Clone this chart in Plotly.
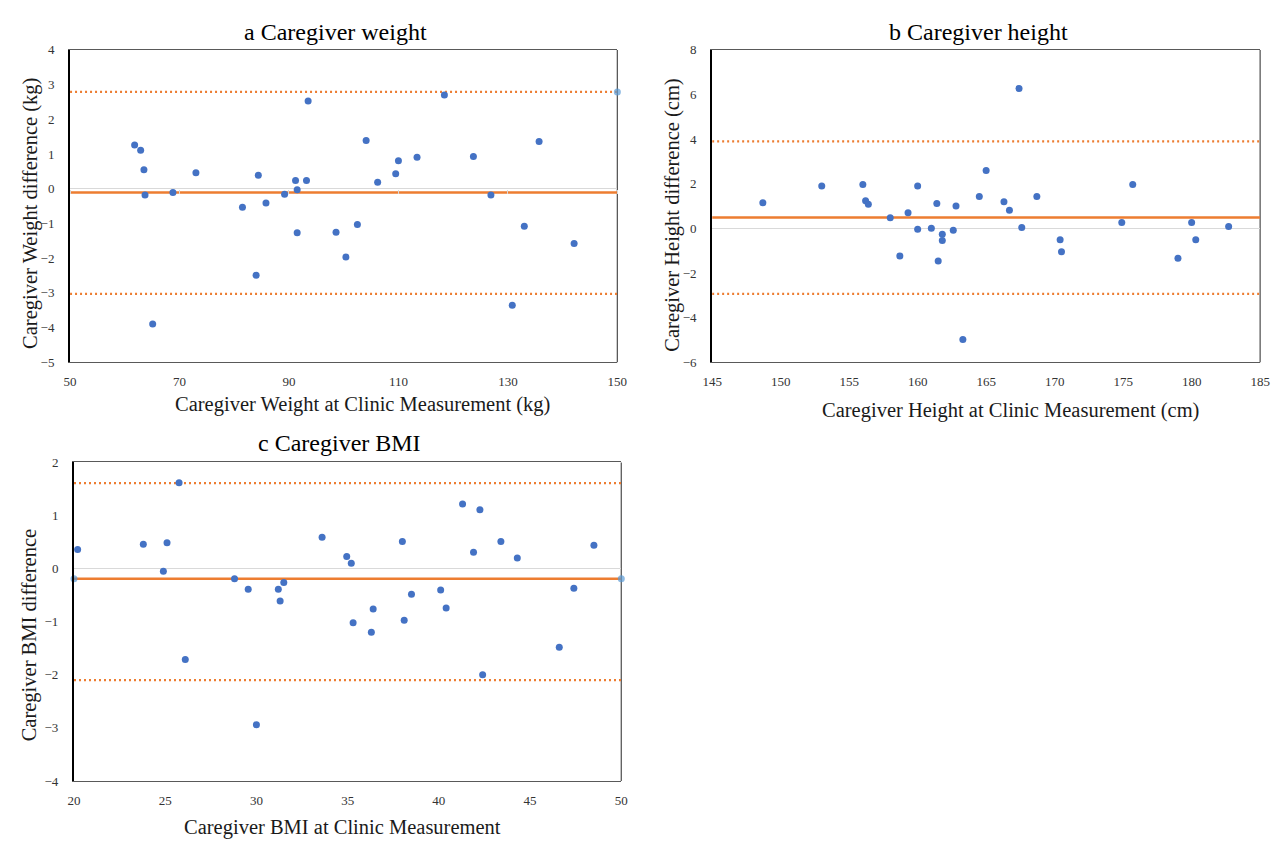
import plotly.graph_objects as go

W, H = 1279, 845

# ---------------- data ----------------
weight_x = [61.8, 62.9, 63.5, 63.7, 65.1, 68.8, 73.0, 81.5, 84.0, 84.4, 85.8, 89.2, 91.2, 91.5, 91.5, 93.2,
            93.5, 98.6, 100.4, 102.5, 104.1, 106.2, 109.5, 110.0, 113.4, 118.4, 123.7, 126.9, 130.8, 133.0,
            135.7, 142.1]
weight_diff = [1.26, 1.11, 0.55, -0.18, -3.90, -0.11, 0.46, -0.53, -2.49, 0.39, -0.41, -0.16, 0.24, -0.03,
               -1.27, 0.24, 2.53, -1.25, -1.97, -1.03, 1.39, 0.19, 0.43, 0.81, 0.91, 2.70, 0.93, -0.18,
               -3.36, -1.08, 1.36, -1.58]
weight_limits = [-0.11, 2.79, -3.03]  # mean, upper, lower

height_x = [148.7, 153.0, 156.0, 156.2, 156.4, 158.0, 158.7, 159.3, 160.0, 160.0, 161.0, 161.4, 161.5,
            161.8, 161.8, 162.6, 162.8, 163.3, 164.5, 165.0, 166.3, 166.7, 167.4, 167.6, 168.7, 170.4,
            170.5, 174.9, 175.7, 179.0, 180.0, 180.3, 182.7]
height_diff = [1.15, 1.90, 1.97, 1.24, 1.08, 0.48, -1.24, 0.70, 1.90, -0.04, 0.01, 1.12, -1.46, -0.26,
               -0.54, -0.08, 1.00, -4.98, 1.43, 2.59, 1.20, 0.81, 6.27, 0.04, 1.43, -0.51, -1.05, 0.27,
               1.97, -1.34, 0.27, -0.51, 0.08]
height_limits = [0.49, 3.90, -2.93]

bmi_x = [20.2, 23.8, 24.9, 25.1, 25.76, 26.1, 28.8, 29.55, 30.0, 31.2, 31.3, 31.5, 33.6, 34.95, 35.2,
         35.3, 36.3, 36.4, 38.0, 38.1, 38.5, 40.1, 40.4, 41.3, 41.9, 42.25, 42.4, 43.4, 44.3, 46.6, 47.4,
         48.5]
bmi_diff = [0.36, 0.46, -0.05, 0.49, 1.62, -1.71, -0.19, -0.39, -2.94, -0.39, -0.61, -0.26, 0.59, 0.23,
            0.10, -1.02, -1.20, -0.76, 0.51, -0.97, -0.48, -0.40, -0.74, 1.22, 0.31, 1.11, -2.00, 0.51,
            0.20, -1.48, -0.37, 0.44]
bmi_limits = [-0.19, 1.61, -2.10]

titles = ["a Caregiver weight", "b Caregiver height", "c Caregiver BMI"]
x_titles = ["Caregiver Weight at Clinic Measurement (kg)",
            "Caregiver Height at Clinic Measurement (cm)",
            "Caregiver BMI at Clinic Measurement"]
y_titles = ["Caregiver Weight difference (kg)",
            "Caregiver Height difference (cm)",
            "Caregiver BMI difference"]

x_ranges = [[50, 150], [145, 185], [20, 50]]
x_dticks = [20, 5, 5]
y_ranges = [[-5, 4], [-6, 8], [-4, 2]]
y_dticks = [1, 2, 1]

# ---------------- styling ----------------
FONT = "Liberation Serif, Times New Roman, serif"
BLUE = "#4472C4"
LIGHT_BLUE = "#5B9BD5"
ORANGE = "#ED7D31"

# pixel boxes of plot areas: (left, right, top, bottom)
boxes = [(61, 617, 43.7, 361.7), (713.3, 1270, 43.7, 361.7), (65, 621, 463.7, 788)]

def px2fx(px):
    return px / W

def py2fy(py):
    return 1 - py / H

fig = go.Figure()

datasets = [(weight_x, weight_diff, weight_limits),
            (height_x, height_diff, height_limits),
            (bmi_x, bmi_diff, bmi_limits)]

# marker end flags for the limit line series (as in reference)
end_markers = [
    {"upper": [0, 7]},
    {},
    {"mean": [7, 7]},
]

for i, (xs, ys, lims) in enumerate(datasets):
    n = "" if i == 0 else str(i + 1)
    xa, ya = "x" + n, "y" + n
    xr = x_ranges[i]
    mean, up, lo = lims
    names = {"mean": mean, "upper": up, "lower": lo}
    for key, val in names.items():
        sizes = end_markers[i].get(key, [0, 0])
        fig.add_trace(go.Scatter(
            x=xr, y=[val, val], mode="lines+markers",
            line=dict(color=ORANGE, width=2.5 if key == "mean" else 2.2,
                      dash="solid" if key == "mean" else "2px,3px"),
            marker=dict(color=LIGHT_BLUE, size=sizes, line=dict(width=0)),
            xaxis=xa, yaxis=ya, showlegend=False, hoverinfo="skip", cliponaxis=False))
    fig.add_trace(go.Scatter(
        x=xs, y=ys, mode="markers",
        marker=dict(color=BLUE, size=7, line=dict(width=0)),
        xaxis=xa, yaxis=ya, showlegend=False, cliponaxis=False))

layout = dict(
    width=W, height=H, autosize=False,
    margin=dict(l=0, r=0, t=0, b=0),
    paper_bgcolor="white", plot_bgcolor="white",
    font=dict(family=FONT, color="#404040"),
    showlegend=False,
)

annotations = []
shapes = []
for i in range(3):
    n = "" if i == 0 else str(i + 1)
    l, r, t, b = boxes[i]
    dom_x = [px2fx(l), px2fx(r)]
    dom_y = [py2fy(b), py2fy(t)]
    layout["xaxis" + n] = dict(
        domain=dom_x, range=x_ranges[i], dtick=x_dticks[i], tick0=x_ranges[i][0],
        showgrid=False, zeroline=False, showline=True, linecolor="#595959", linewidth=1.2,
        mirror=True, ticks="", tickfont=dict(family=FONT, size=13, color="#333333"),
        ticklabelstandoff=7, anchor="y" + n, fixedrange=True)
    layout["yaxis" + n] = dict(
        domain=dom_y, range=y_ranges[i], dtick=y_dticks[i], tick0=y_ranges[i][0],
        showgrid=False, zeroline=True, zerolinecolor="#D9D9D9", zerolinewidth=1.2,
        showline=True, linecolor="#000000", linewidth=2, mirror=False, ticks="",
        tickfont=dict(family=FONT, size=13, color="#333333"),
        ticklabelstandoff=11, anchor="x" + n, fixedrange=True)
    # right border
    shapes.append(dict(type="line", xref="x" + n + " domain", yref="y" + n + " domain",
                       x0=1, x1=1, y0=0, y1=1, line=dict(color="#595959", width=1.3), layer="below"))

layout["shapes"] = shapes

# small tick marks on the zero line of panel a
ya0 = py2fy(boxes[0][3])
ya1 = py2fy(boxes[0][2])
yr = y_ranges[0]
zero_pos = ya0 + (0 - yr[0]) / (yr[1] - yr[0]) * (ya1 - ya0)
layout["xaxis4"] = dict(
    overlaying="x", anchor="free", position=zero_pos, range=x_ranges[0], dtick=x_dticks[0],
    tick0=x_ranges[0][0], showgrid=False, zeroline=False, showline=False, ticks="outside",
    ticklen=4, tickwidth=1, tickcolor="#D9D9D9", showticklabels=False, fixedrange=True)
fig.add_trace(go.Scatter(x=[None], y=[None], xaxis="x4", yaxis="y", mode="markers",
                         showlegend=False, hoverinfo="skip"))

# titles
title_pos = [(330.5, 25), (984, 25), (335, 444)]
xt_pos = [(358.5, 405), (1016, 411), (337.5, 835)]
yt_pos = [(21, 210), (673, 212), (20, 639)]
for i in range(3):
    annotations.append(dict(text=titles[i], x=px2fx(title_pos[i][0]), y=py2fy(title_pos[i][1]),
                            xref="paper", yref="paper", showarrow=False, xanchor="center",
                            yanchor="middle", font=dict(family=FONT, size=24, color="#000000")))
    annotations.append(dict(text=x_titles[i], x=px2fx(xt_pos[i][0]), y=py2fy(xt_pos[i][1]),
                            xref="paper", yref="paper", showarrow=False, xanchor="center",
                            yanchor="middle", font=dict(family=FONT, size=20.5, color="#1a1a1a")))
    annotations.append(dict(text=y_titles[i], x=px2fx(yt_pos[i][0]), y=py2fy(yt_pos[i][1]),
                            xref="paper", yref="paper", showarrow=False, xanchor="center",
                            yanchor="middle", textangle=-90,
                            font=dict(family=FONT, size=20.5, color="#1a1a1a")))
layout["annotations"] = annotations

fig.update_layout(**layout)

fig.write_html("out.html", config={"displayModeBar": False},
               post_script="document.body.style.margin='0';document.body.style.overflow='hidden';")
